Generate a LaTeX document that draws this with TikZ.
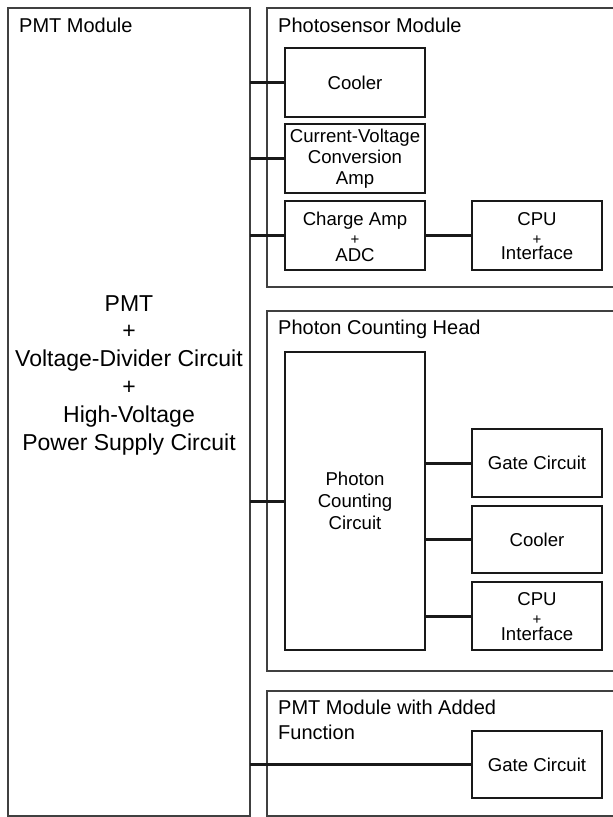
\documentclass[tikz,border=0pt]{standalone}
\usepackage{fontspec}
\setmainfont{Liberation Sans}
\usetikzlibrary{calc}
\begin{document}
\begin{tikzpicture}[x=1pt,y=-1pt,
  module/.style={draw=black!75, line width=1.2pt, inner sep=0pt, outer sep=0pt, anchor=north west},
  block/.style={draw=black!90, line width=1.4pt, inner sep=0pt, outer sep=0pt, minimum width=140pt, minimum height=69pt,
                font=\fontsize{18.6}{21}\selectfont, align=center},
  smallblock/.style={block, minimum width=130pt},
  conn/.style={line width=3pt, black!90},
  title/.style={anchor=base west, inner sep=0pt, font=\fontsize{20}{25}\selectfont},
  lbl/.style={anchor=base, inner sep=0pt, font=\fontsize{18.6}{21}\selectfont},
  plus/.style={anchor=base, inner sep=0pt, font=\fontsize{15}{15}\selectfont}]
\useasboundingbox (0,0) rectangle (613,817);
\clip (0,0) rectangle (613,817);

\newcommand\stacklabel[4]{%
  \node[lbl]  at ($(#1.center)+(0,-10.5)$) {#2};
  \node[plus] at ($(#1.center)+(0,8.8)$) {+};
  \node[lbl]  at ($(#1.center)+(0,#4)$) {#3};}

% PMT module
\node[module, minimum width=242pt, minimum height=808pt] (pmt) at (8,8) {};
\node[title] (pmtt) at (19,32) {PMT Module};
\node[align=center, inner sep=0pt, font=\fontsize{23}{27.8}\selectfont] (pmtx) at (129,375)
  {PMT\\+\\Voltage-Divider Circuit\\+\\High-Voltage\\Power Supply Circuit};

% Photosensor module
\node[module, minimum width=360pt, minimum height=279pt] (ps) at (267,8) {};
\node[title] (pst) at (278,32) {Photosensor Module};
\node[block] (cool1) at (355,82.5) {Cooler};
\node[block] (cv) at (355,158.5) {Current-Voltage\\Conversion\\Amp};
\node[block] (chg) at (355,235.5) {};
\stacklabel{chg}{Charge Amp}{ADC}{25.5}
\node[smallblock] (cpu1) at (537,235.5) {};
\stacklabel{cpu1}{CPU}{Interface}{24}

% Photon counting head
\node[module, minimum width=360pt, minimum height=360pt] (pch) at (267,311) {};
\node[title] (pcht) at (278,334) {Photon Counting Head};
\node[block, minimum height=298pt, font=\fontsize{18.6}{22}\selectfont] (pcc) at (355,501) {Photon\\Counting\\Circuit};
\node[smallblock, minimum height=68pt] (gate1) at (537,463) {Gate Circuit};
\node[smallblock, minimum height=67pt] (cool2) at (537,539.5) {Cooler};
\node[smallblock, minimum height=68pt] (cpu2) at (537,616) {};
\stacklabel{cpu2}{CPU}{Interface}{24}

% PMT module with added function
\node[module, minimum width=360pt, minimum height=125pt] (pma) at (267,691) {};
\node[title] (pmat1) at (278,714) {PMT Module with Added};
\node[title] (pmat2) at (278,739) {Function};
\node[smallblock, minimum height=67pt] (gate2) at (537,764.5) {Gate Circuit};

% connectors
\draw[conn] (pmt.east |- cool1.west) -- (cool1.west);
\draw[conn] (pmt.east |- cv.west) -- (cv.west);
\draw[conn] (pmt.east |- chg.west) -- (chg.west);
\draw[conn] (chg.east) -- (cpu1.west);
\draw[conn] (pmt.east |- pcc.west) -- (pcc.west);
\draw[conn] (pcc.east |- gate1.west) -- (gate1.west);
\draw[conn] (pcc.east |- cool2.west) -- (cool2.west);
\draw[conn] (pcc.east |- cpu2.west) -- (cpu2.west);
\draw[conn] (pmt.east |- gate2.west) -- (gate2.west);
\end{tikzpicture}
\end{document}
